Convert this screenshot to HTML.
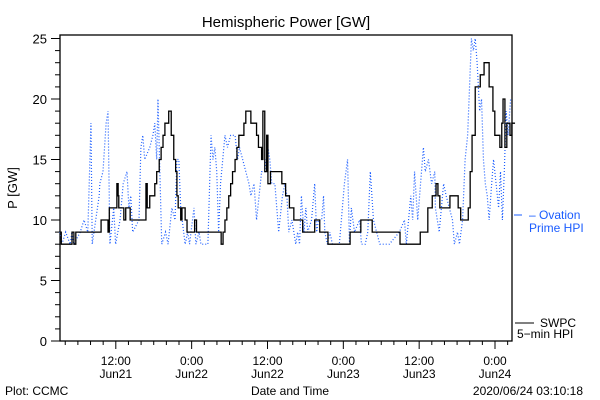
<!DOCTYPE html>
<html><head><meta charset="utf-8"><style>
body{margin:0;background:#fff;}
svg{display:block;font-family:"Liberation Sans",sans-serif;}
</style></head><body>
<svg id="chart" width="600" height="400" viewBox="0 0 600 400">
<rect x="0" y="0" width="600" height="400" fill="#fff"/>
<text x="286" y="27" font-size="15" text-anchor="middle">Hemispheric Power [GW]</text>
<rect x="60" y="35" width="452" height="306" fill="none" stroke="#000" stroke-width="1.3"/>
<g id="yticks"></g>
<g id="xticks"></g>
<text transform="translate(17,188) rotate(-90)" font-size="13" text-anchor="middle">P [GW]</text>
<path id="ovation" fill="none" stroke="#1a5cff" stroke-width="1.2" stroke-dasharray="1 2"/>
<path id="swpc" fill="none" stroke="#000" stroke-width="1.3"/>
<g>
<line x1="514" y1="215" x2="522" y2="215" stroke="#1a5cff" stroke-width="1"/>
<text x="529" y="219" font-size="12" fill="#1a5cff">– Ovation</text>
<text x="529" y="232" font-size="12" fill="#1a5cff">Prime HPI</text>
</g>
<g>
<line x1="515" y1="323" x2="534" y2="323" stroke="#000" stroke-width="1"/>
<text x="540" y="327" font-size="12">SWPC</text>
<text x="517" y="338" font-size="12">5−min HPI</text>
</g>
<text x="5" y="395" font-size="12">Plot: CCMC</text>
<text x="290" y="395" font-size="12" text-anchor="middle">Date and Time</text>
<text x="583" y="395" font-size="12" text-anchor="end">2020/06/24 03:10:18</text>
</svg>
<script>
// time in hours since 2020-06-21 03:10
const swpcTimes=[0,0.2,1.9,2.2,2.5,6.5,7.6,7.8,9.0,9.2,9.3,10.1,10.4,11.1,13.6,13.8,14.2,15.0,15.3,15.7,16.0,16.3,16.6,17.2,17.6,18.0,18.3,18.5,18.7,19.1,19.3,19.8,20.1,21.3,21.6,25.5,25.8,26.1,26.4,26.7,27.0,27.3,27.7,28.0,28.3,29.1,29.4,30.2,31.1,31.4,31.9,32.1,32.4,32.7,32.9,33.3,35.1,35.7,36.3,37.0,38.4,40.3,41.1,42.4,45.9,47.6,49.4,53.8,57.0,58.2,58.9,59.5,59.8,60.1,61.7,63.0,63.4,64.6,64.9,65.2,65.7,66.5,67.1,67.9,68.5,68.8,69.6,69.9,70.1,70.4,70.7,71.2,71.5];
const swpcValues=[9,8,9,8,9,10,9,11,13,12,11,10,11,10,13,11,12,13,14,15,16,17,18,19,17,15,14,12,11,10,11,10,9,10,9,8,9,10,11,12,13,14,15,16,17,18,19,18,17,16,15,19,14,17,13,14,13,12,11,10,9,10,9,8,9,10,9,8,9,11,12,13,12,11,12,11,10,11,14,17,21,22,23,21,19,17,16,18,20,16,18,17,18];
const ovTimes=[0,0.3,0.9,1.6,1.9,2.2,3.2,3.8,4.4,4.9,5.1,6.2,6.3,6.8,7.3,7.6,7.9,8.5,8.8,9.5,10.0,10.6,10.9,11.2,11.5,12.5,12.8,13.1,13.4,14.2,14.7,15.0,15.3,15.5,15.8,16.1,16.7,17.1,17.7,18.2,18.5,18.8,19.1,19.8,20.2,20.5,21.2,21.5,22.0,22.3,23.4,23.9,24.2,24.5,24.8,25.1,25.4,26.1,26.5,27.0,27.7,28.1,28.4,28.9,29.4,29.9,30.2,30.7,31.1,31.9,32.4,32.9,33.2,33.5,34.0,34.3,34.6,35.2,35.6,35.9,36.2,36.7,37.0,37.3,37.6,37.9,38.2,38.6,38.9,39.2,39.8,40.3,40.6,40.9,41.4,41.7,41.9,42.3,42.7,43.1,44.2,45.0,45.5,45.8,46.1,46.6,47.4,47.7,48.3,48.7,49.1,49.6,50.1,50.6,52.1,53.7,54.5,54.8,55.5,55.8,56.1,56.6,56.9,57.5,57.8,58.3,58.8,59.3,59.4,60.0,60.7,61.1,61.6,62.1,62.4,62.9,63.2,63.7,64.1,64.5,64.8,65.1,65.4,65.7,66.0,66.4,66.7,67.0,67.3,67.6,67.9,68.3,68.6,69.0,69.4,69.7,70.0,70.3,70.6,70.9,71.3];
const ovValues=[9,8,9,8,9,8,9,10,9,18,8,12,13,14,18,19,8,11,8,10,13,14,11,12,9,10,16,17,15,16,17,18,15,20,14,8,9,8,11,10,15,15,11,8,9,8,11,8,9,8,8,17,15,16,14,9,13,17,16,17,17,15,16,15,14,13,12,13,10,14,14,16,15,13,13,11,9,12,13,12,9,10,9,8,9,8,12,9,11,9,10,13,9,10,10,12,9,8,9,8,8,13,15,8,11,9,10,8,8,9,14,10,9,8,8,9,10,8,12,10,14,10,12,16,14,15,13,14,11,9,13,12,11,10,8,9,8,10,15,17,21,25,24,25,23,19,20,15,13,12,10,13,15,13,11,14,10,14,19,17,20];
const yTickLabels=["0","5","10","15","20","25"];
const xTickLabels=[["12:00","Jun21"],["0:00","Jun22"],["12:00","Jun22"],["0:00","Jun23"],["12:00","Jun23"],["0:00","Jun24"]];
const firstMajor=8.83, firstMinor=0.83;

const X=t=>60+t*6.32;
const Y=v=>341-v*12.1;
const NS='http://www.w3.org/2000/svg';
function mk(tag,attrs,parent){const e=document.createElementNS(NS,tag);for(const k in attrs)e.setAttribute(k,attrs[k]);parent.appendChild(e);return e;}

const yg=document.getElementById('yticks');
for(let v=0;v<=25;v++){
  const major=v%5===0;
  const l=mk('line',{x1:60,x2:major?51:55,y1:Y(v),y2:Y(v),stroke:'#000','stroke-width':1},yg);
  
  
}
yTickLabels.forEach((s,i)=>{
  const t=mk('text',{x:47,y:Y(+s)+5,'font-size':13,'text-anchor':'end'},yg);
  t.textContent=s;
  
  
});
const xg=document.getElementById('xticks');
for(let t=firstMinor;t<=72;t+=2){
  const major=Math.abs(((t-firstMajor)%12+12)%12)<0.01;
  const l=mk('line',{x1:X(t),x2:X(t),y1:341,y2:major?349:345,stroke:'#000','stroke-width':1},xg);
  
  
}
xTickLabels.forEach((p,i)=>{
  const x=X(firstMajor+12*i);
  const a=mk('text',{x:x,y:365,'font-size':12,'text-anchor':'middle'},xg);
  a.textContent=p[0];
  
  
  const b=mk('text',{x:x,y:378,'font-size':12,'text-anchor':'middle'},xg);
  b.textContent=p[1];
  
  
});
let d='';
swpcTimes.forEach((t,i)=>{
  if(i===0)d+='M'+X(t)+','+Y(swpcValues[i]);
  else d+='H'+X(t)+'V'+Y(swpcValues[i]);
});
d+='H'+X(72);
document.getElementById('swpc').setAttribute('d',d);
let o='';
ovTimes.forEach((t,i)=>{o+=(i?'L':'M')+X(t)+','+Y(ovValues[i]);});
document.getElementById('ovation').setAttribute('d',o);
</script>
</body></html>
